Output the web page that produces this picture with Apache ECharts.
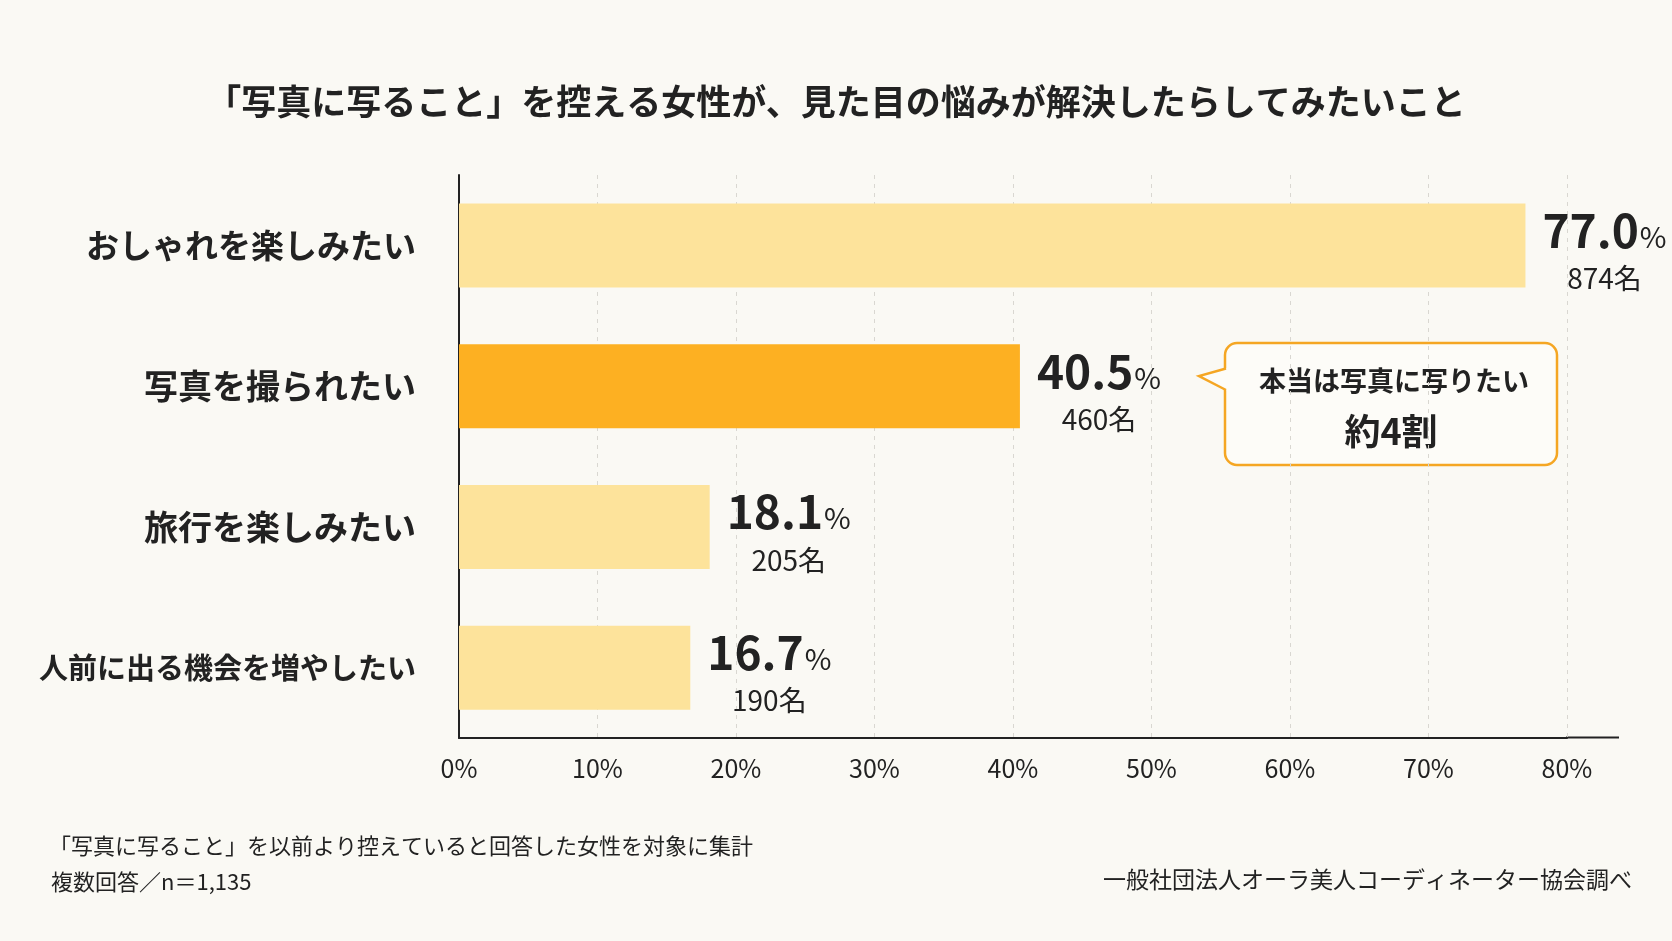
<!DOCTYPE html>
<html lang="ja">
<head>
    <meta charset="UTF-8">
    <title>写真に写ること</title>
    <script type="text/javascript" src="https://cdn.jsdelivr.net/npm/echarts@6/dist/echarts.min.js"></script>
    <style>
        html, body { margin: 0; padding: 0; background: #faf9f4; }
        #chart { width: 1672px; height: 941px; }
    </style>
</head>
<body>
<div id="chart"></div>
<script type="text/javascript">
    // 項目
    const categories = ['おしゃれを楽しみたい', '写真を撮られたい', '旅行を楽しみたい', '人前に出る機会を増やしたい'];
    // 割合(%)
    const percents = [77.0, 40.5, 18.1, 16.7];
    // 人数
    const counts = [874, 460, 205, 190];
    const highlightIndex = 1;
    const xTicks = [0, 10, 20, 30, 40, 50, 60, 70, 80];

    const FONT = '"Noto Sans CJK JP", "Noto Sans", sans-serif';

    let chart = echarts.init(document.getElementById('chart'));

    let option = {
        backgroundColor: '#faf9f4',
        textStyle: { fontFamily: FONT },
        title: {
            text: '「写真に写ること」を控える女性が、見た目の悩みが解決したらしてみたいこと',
            left: 'center',
            top: 79,
            textStyle: { fontFamily: FONT, fontSize: 35, fontWeight: 'bold', color: '#222' }
        },
        grid: { left: 459, right: 105, top: 175, bottom: 203 },
        xAxis: {
            type: 'value',
            min: xTicks[0],
            max: xTicks[xTicks.length - 1],
            interval: 10,
            axisLine: { show: true, lineStyle: { color: '#222', width: 2 } },
            axisTick: { show: false },
            splitLine: { show: true, lineStyle: { color: '#d9d7d1', type: [4, 5], width: 1 } },
            axisLabel: {
                margin: 18,
                fontSize: 25,
                color: '#222',
                fontFamily: FONT,
                formatter: '{value}%'
            }
        },
        yAxis: {
            type: 'category',
            inverse: true,
            data: categories,
            axisLine: { show: true, lineStyle: { color: '#222', width: 2 } },
            axisTick: { show: false },
            axisLabel: {
                margin: 43,
                color: '#222',
                formatter: function (v) {
                    let k = v.length > 10 ? 's' : (v.length > 8 ? 'l' : 'm');
                    return '{' + k + '|' + v + '}';
                },
                rich: {
                    l: { fontSize: 33, fontWeight: 'bold', color: '#222', fontFamily: FONT },
                    m: { fontSize: 34, fontWeight: 'bold', color: '#222', fontFamily: FONT },
                    s: { fontSize: 29, fontWeight: 'bold', color: '#222', fontFamily: FONT }
                }
            }
        },
        series: [
            {
                type: 'bar',
                barWidth: 84,
                data: percents.map((v, i) => ({
                    value: v,
                    itemStyle: { color: i === highlightIndex ? '#fdb022' : '#fde39b' }
                })),
                label: {
                    show: true,
                    position: 'right',
                    distance: 17,
                    offset: [0, 8],
                    formatter: function (p) {
                        return '{v|' + p.value.toFixed(1) + '}{p|%}\n{n|' + counts[p.dataIndex] + '名}';
                    },
                    rich: {
                        v: { fontSize: 46, fontWeight: 'bold', color: '#222', lineHeight: 50, align: 'center', fontFamily: FONT },
                        p: { fontSize: 29, color: '#222', lineHeight: 50, align: 'center', verticalAlign: 'bottom', padding: [0, 0, 4, 1], fontFamily: FONT },
                        n: { fontSize: 28, color: '#222', lineHeight: 46, align: 'center', fontFamily: FONT }
                    }
                }
            }
        ],
        graphic: [
            // x軸の右端の延長
            { type: 'line', shape: { x1: 1566, y1: 737.5, x2: 1619, y2: 737.5 }, style: { stroke: '#222', lineWidth: 2 } },
            // 吹き出し
            {
                type: 'rect',
                shape: { x: 1225, y: 343, width: 332, height: 122, r: 12 },
                style: { fill: '#fdfcf8', stroke: '#f5a623', lineWidth: 2.5 }
            },
            {
                type: 'polygon',
                shape: { points: [[1228, 368], [1199, 376], [1228, 391]] },
                style: { fill: '#fdfcf8' }
            },
            {
                type: 'polyline',
                shape: { points: [[1226, 368.5], [1199, 376], [1226, 390]] },
                style: { stroke: '#f5a623', lineWidth: 2.5, fill: null }
            },
            {
                type: 'text',
                x: 1394, y: 381,
                style: { text: '本当は写真に写りたい', font: 'bold 27px ' + FONT, fill: '#222', textAlign: 'center', textVerticalAlign: 'middle' }
            },
            {
                type: 'text',
                x: 1391, y: 431,
                style: { text: '約4割', font: 'bold 36px ' + FONT, fill: '#222', textAlign: 'center', textVerticalAlign: 'middle' }
            },
            // 注記
            {
                type: 'text',
                left: 49, top: 835,
                style: { text: '「写真に写ること」を以前より控えていると回答した女性を対象に集計', font: '22px ' + FONT, fill: '#222' }
            },
            {
                type: 'text',
                left: 51, top: 871,
                style: { text: '複数回答／n＝1,135', font: '22px ' + FONT, fill: '#222' }
            },
            {
                type: 'text',
                right: 40, top: 868,
                style: { text: '一般社団法人オーラ美人コーディネーター協会調べ', font: '23px ' + FONT, fill: '#222' }
            }
        ]
    };

    chart.setOption(option);
</script>
</body>
</html>
